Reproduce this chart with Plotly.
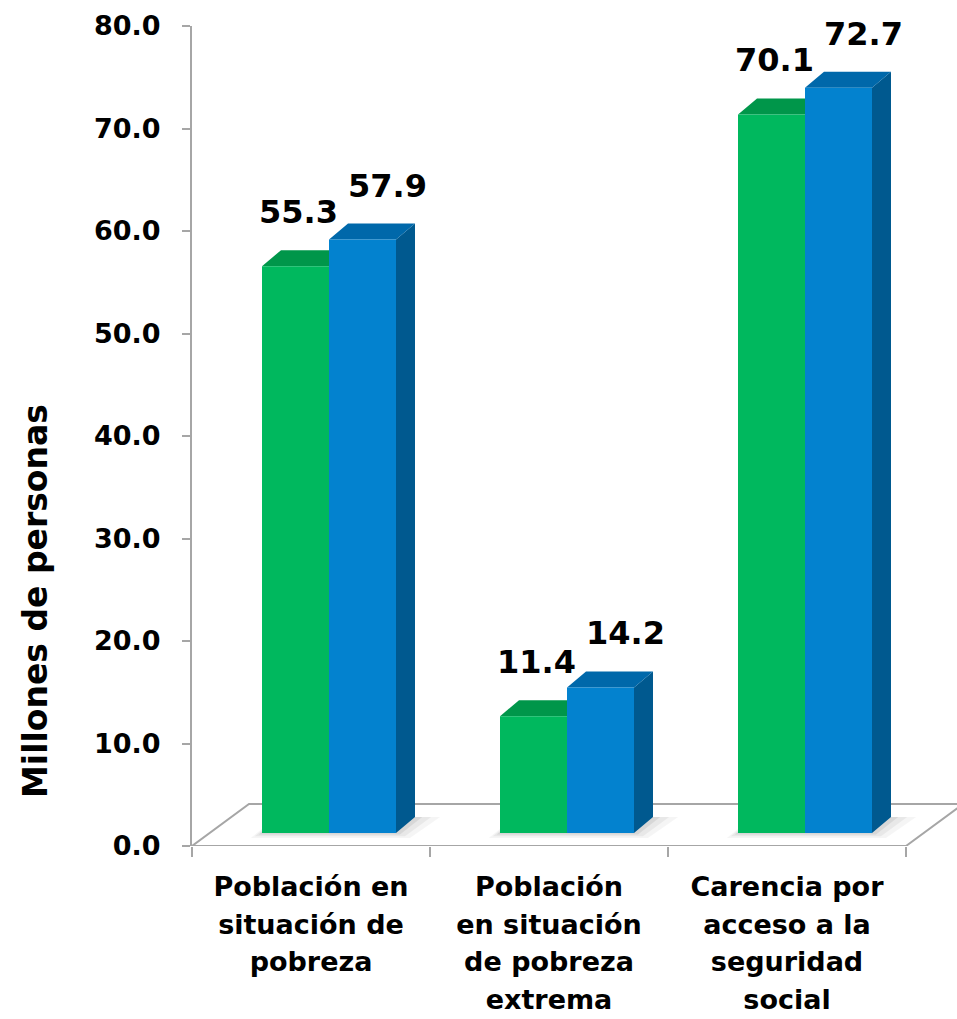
import plotly.graph_objects as go

# ---------------- data ----------------
categorias = [
    "Población en<br>situación de<br>pobreza",
    "Población<br>en situación<br>de pobreza<br>extrema",
    "Carencia por<br>acceso a la<br>seguridad<br>social",
]
valores_serie1 = [55.3, 11.4, 70.1]
valores_serie2 = [57.9, 14.2, 72.7]
ticks_y = [0, 10, 20, 30, 40, 50, 60, 70, 80]
titulo_y = "Millones de personas"

# ---------------- style / geometry ----------------
W, H = 957, 1019
M_L, M_R, M_T, M_B = 192, 0, 26, 173
X_RANGE = [-0.5, -0.5 + (W - M_L - M_R) / 238.0]
Y_RANGE = [0, 80]
PX_X = (W - M_L - M_R) / (X_RANGE[1] - X_RANGE[0])
PX_Y = (H - M_T - M_B) / (Y_RANGE[1] - Y_RANGE[0])

FRONT_DX = 18 / PX_X      # bars sit slightly back in the 3D box
FRONT_DY = 13 / PX_Y
TOP_DX = 19 / PX_X        # depth of each bar
TOP_DY = 16 / PX_Y
FLOOR_DX = 57 / PX_X
FLOOR_DY = 42 / PX_Y
BAR_W = 67 / PX_X

GRIS = "#A6A6A6"
VERDE = "#00B85E"
VERDE_TOP = "#00964A"
VERDE_SIDE = "#007A3C"
AZUL = "#0382CF"
AZUL_TOP = "#0068AA"
AZUL_SIDE = "#00598F"
FONT = "DejaVu Sans"

pos = list(range(len(categorias)))

series = [
    dict(vals=valores_serie1, off=-BAR_W, front=VERDE, top=VERDE_TOP, side=VERDE_SIDE,
         lab_dx=3 / PX_X),
    dict(vals=valores_serie2, off=0.0, front=AZUL, top=AZUL_TOP, side=AZUL_SIDE,
         lab_dx=25 / PX_X),
]

fig = go.Figure()
shapes = []
annotations = []

# floor of the 3D box
fx0 = X_RANGE[0]
fx1 = len(categorias) - 0.5
shapes.append(dict(
    type="path", layer="below", xref="x", yref="y",
    path=f"M {fx0},0 L {fx1},0 L {fx1 + FLOOR_DX},{FLOOR_DY} L {fx0 + FLOOR_DX},{FLOOR_DY} Z",
    line=dict(color=GRIS, width=2), fillcolor="white",
))

# soft shadows on the floor (footprint of each bar group, spread a little)
for p in pos:
    x0 = p + FRONT_DX - BAR_W
    x1 = p + FRONT_DX + BAR_W
    for grow, op in [(14, 0.04), (9, 0.05), (4, 0.07)]:
        gx = grow / PX_X
        gy = grow / PX_Y * 0.35
        shapes.append(dict(
            type="path", layer="below", xref="x", yref="y",
            path=(f"M {x0 - gx * 0.8},{FRONT_DY - gy} L {x1 + gx},{FRONT_DY - gy} "
                  f"L {x1 + TOP_DX + gx * 1.8},{FRONT_DY + TOP_DY} "
                  f"L {x0 + TOP_DX - gx * 0.3},{FRONT_DY + TOP_DY} Z"),
            line=dict(width=0), fillcolor=f"rgba(0,0,0,{op})",
        ))

for s in series:
    xs = [p + FRONT_DX for p in pos]
    fig.add_trace(go.Bar(
        x=xs, y=s["vals"], base=FRONT_DY, width=BAR_W, offset=s["off"],
        marker=dict(color=s["front"], line=dict(width=0)),
        showlegend=False, hoverinfo="skip",
    ))
    for x, v in zip(xs, s["vals"]):
        x0 = x + s["off"]
        x1 = x0 + BAR_W
        b = FRONT_DY
        t = FRONT_DY + v
        # right side face
        shapes.append(dict(
            type="path", layer="below", xref="x", yref="y",
            path=f"M {x1},{b} L {x1},{t} L {x1 + TOP_DX},{t + TOP_DY} L {x1 + TOP_DX},{b + TOP_DY} Z",
            line=dict(width=0), fillcolor=s["side"],
        ))
        # top face
        shapes.append(dict(
            type="path", layer="below", xref="x", yref="y",
            path=f"M {x0},{t} L {x1},{t} L {x1 + TOP_DX},{t + TOP_DY} L {x0 + TOP_DX},{t + TOP_DY} Z",
            line=dict(width=0), fillcolor=s["top"],
        ))
        annotations.append(dict(
            x=x0 + BAR_W / 2 + s["lab_dx"], y=t + TOP_DY + 38 / PX_Y,
            xref="x", yref="y", text=f"{v:.1f}", showarrow=False,
            xanchor="center", yanchor="middle",
            font=dict(family=FONT, size=32, color="black", weight="bold"),
        ))

annotations.append(dict(
    x=(35 - M_L) / (W - M_L - M_R), y=(H - M_B - 601) / (H - M_T - M_B),
    xref="paper", yref="paper", text=titulo_y, textangle=-90, showarrow=False,
    xanchor="center", yanchor="middle",
    font=dict(family=FONT, size=33, color="black", weight="bold"),
))

# tick labels: larger base font gives the wider line spacing, inner span keeps glyph size
ticktext_x = ["<br>".join(f"<span style='font-size:27px'>{ln}</span>" for ln in c.split("<br>"))
              for c in categorias]

fig.update_layout(
    width=W, height=H,
    margin=dict(l=M_L, r=M_R, t=M_T, b=M_B, pad=0),
    paper_bgcolor="white", plot_bgcolor="white",
    barmode="overlay",
    shapes=shapes, annotations=annotations,
    showlegend=False,
)
fig.update_xaxes(
    range=X_RANGE, tickmode="array", tickvals=pos, ticktext=ticktext_x,
    showgrid=False, zeroline=False, showline=False, ticks="",
    tickfont=dict(family=FONT, size=29, color="black", weight="bold"),
    ticklabelstandoff=20,
    minor=dict(tick0=-0.5, dtick=1, ticks="outside", ticklen=10, tickcolor=GRIS,
               tickwidth=2, showgrid=False),
)
fig.update_yaxes(
    range=Y_RANGE, tickmode="array", tickvals=ticks_y,
    ticktext=[f"{t:.1f}" for t in ticks_y],
    showgrid=False, zeroline=False, showline=True, linecolor=GRIS, linewidth=2,
    ticks="outside", ticklen=8, tickcolor=GRIS, tickwidth=2,
    tickfont=dict(family=FONT, size=27, color="black", weight="bold"),
    ticklabelstandoff=16,
)

fig.write_html(
    "out.html",
    config={"displayModeBar": False},
    post_script="document.body.style.margin='0';document.body.style.overflow='hidden';",
)
